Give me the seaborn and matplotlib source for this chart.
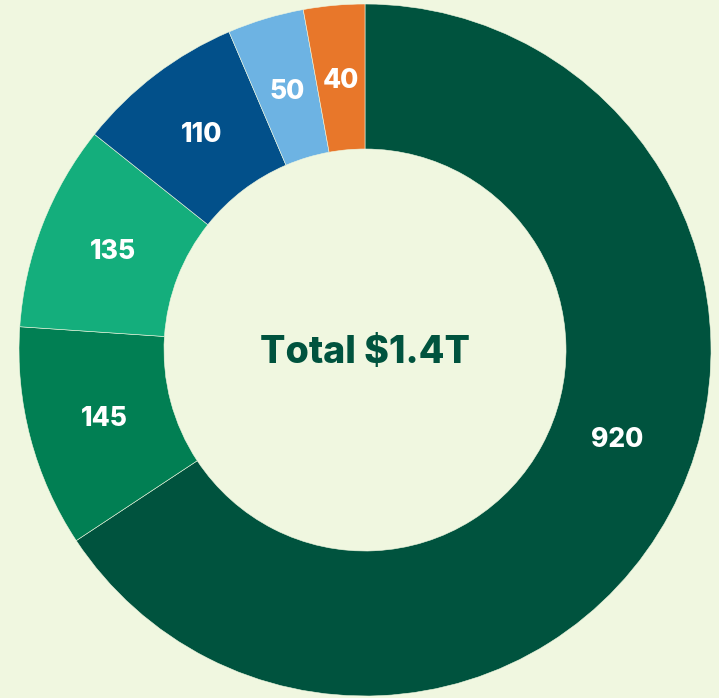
import matplotlib
matplotlib.use("Agg")
import matplotlib.pyplot as plt
import seaborn as sns

# chart data (clockwise from 12 o'clock)
categories = ["A", "B", "C", "D", "E", "F"]
values = [920, 145, 135, 110, 50, 40]
colors = ["#00533E", "#017F53", "#14AE7C", "#02508A", "#6DB3E3", "#E8772A"]
center_label = "Total $1.4T"

BG = "#F0F7E0"
TEXT_DARK = "#00533E"

sns.set_theme(style="white")
plt.rcParams["font.family"] = ["Inter", "DejaVu Sans"]

W, H = 719, 698
cx, cy = 365, 350
r_outer = 346
ring = 145

fig = plt.figure(figsize=(W / 100, H / 100), dpi=100, facecolor=BG)
ax = fig.add_axes([0, 0, 1, 1])
ax.set_facecolor(BG)

wedges, texts, autotexts = ax.pie(
    values,
    colors=sns.color_palette(colors),
    startangle=90,
    counterclock=False,
    radius=r_outer,
    center=(0, 0),
    autopct=lambda p: f"{p * sum(values) / 100:.0f}",
    pctdistance=0.78,
    wedgeprops=dict(width=ring, edgecolor=BG, linewidth=0.4),
    textprops=dict(color="white", fontsize=19, fontweight="heavy"),
)

# the big slice's label sits nearer the right side in the original
autotexts[0].set_position((252, -90))

ax.text(0, -3, center_label, ha="center", va="center",
        fontsize=27, fontweight="heavy", color=TEXT_DARK)

ax.set_xlim(-cx, W - cx)
ax.set_ylim(-(H - cy), cy)
ax.set_aspect("equal")
ax.axis("off")

fig.savefig("out.png", dpi=100, facecolor=BG)
